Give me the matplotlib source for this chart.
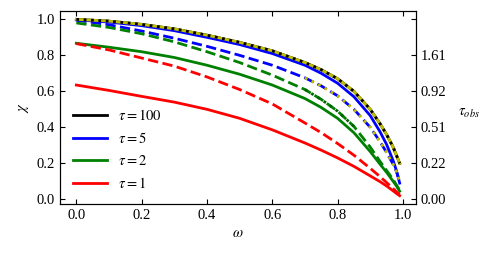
import numpy as np
import matplotlib
matplotlib.use("Agg")
from matplotlib import pyplot as plt

plt.rcParams['font.family'] = 'serif'
plt.rcParams['font.serif'] = ['Liberation Serif', 'DejaVu Serif']
plt.rcParams['mathtext.fontset'] = 'stix'
plt.rcParams['font.size'] = 10.5

# single scattering albedo grid
omega = [0.0, 0.1, 0.2, 0.3, 0.4, 0.5, 0.6, 0.7, 0.75, 0.8, 0.85, 0.9, 0.93, 0.95, 0.97, 0.98, 0.99]

# solid curves
chi_tau100 = [1.0, 0.99, 0.972, 0.947, 0.912, 0.872, 0.825, 0.76, 0.72, 0.67, 0.60, 0.50, 0.42, 0.36, 0.29, 0.245, 0.2]
chi_tau5 = [0.997, 0.985, 0.965, 0.937, 0.9, 0.86, 0.81, 0.745, 0.70, 0.645, 0.57, 0.465, 0.375, 0.305, 0.215, 0.16, 0.09]
chi_tau2 = [0.867, 0.845, 0.82, 0.788, 0.745, 0.695, 0.635, 0.56, 0.51, 0.45, 0.37, 0.265, 0.195, 0.15, 0.10, 0.075, 0.045]
chi_tau1 = [0.635, 0.605, 0.572, 0.54, 0.50, 0.45, 0.386, 0.313, 0.273, 0.23, 0.183, 0.13, 0.098, 0.074, 0.047, 0.033, 0.02]

# dashed curves
chid_tau5 = [0.995, 0.97, 0.935, 0.895, 0.85, 0.80, 0.745, 0.675, 0.63, 0.575, 0.50, 0.40, 0.32, 0.26, 0.195, 0.155, 0.1]
chid_tau2 = [0.98, 0.955, 0.92, 0.875, 0.82, 0.76, 0.69, 0.61, 0.555, 0.49, 0.405, 0.29, 0.21, 0.16, 0.11, 0.08, 0.05]
chid_tau1 = [0.865, 0.83, 0.785, 0.74, 0.68, 0.61, 0.53, 0.424, 0.37, 0.31, 0.245, 0.172, 0.126, 0.093, 0.06, 0.042, 0.025]

# right axis: tau_obs labels at chi ticks
chi_ticks = [0.0, 0.2, 0.4, 0.6, 0.8, 1.0]
tau_obs_labels = ['0.00', '0.22', '0.51', '0.92', '1.61', '']

fig = plt.figure(figsize=(4.85, 2.59), dpi=100)
ax = fig.add_axes([0.1237, 0.2124, 0.734, 0.7463])

lw = 2.0
ax.plot(omega, chi_tau100, color='k', lw=lw, label=r'$\tau=100$')
ax.plot(omega, chi_tau5, color='b', lw=lw, label=r'$\tau=5$')
ax.plot(omega, chi_tau2, color='g', lw=lw, label=r'$\tau=2$')
ax.plot(omega, chi_tau1, color='r', lw=lw, label=r'$\tau=1$')

ax.plot(omega, chid_tau5, color='b', lw=lw, ls='--')
ax.plot(omega, chid_tau2, color='g', lw=lw, ls='--')
ax.plot(omega, chid_tau1, color='r', lw=lw, ls='--')

# approximations overlaid
ax.plot(omega, chi_tau100, color='y', lw=lw)
ax.plot(omega, chi_tau100, color='k', lw=lw, ls=':')
ax.plot(omega[7:], chid_tau5[7:], color='y', lw=lw, ls=':')
ax.plot(omega[7:11], chid_tau2[7:11], color='darkgreen', lw=lw, ls=':')

ax.set_xlim(-0.05, 1.04)
ax.set_ylim(-0.026, 1.048)
ax.set_xticks([0.0, 0.2, 0.4, 0.6, 0.8, 1.0])
ax.set_yticks([0.0, 0.2, 0.4, 0.6, 0.8, 1.0])
ax.tick_params(direction='in', length=3.5, top=True, right=False)
ax.set_xlabel(r'$\omega$')
ax.set_ylabel(r'$\chi$')

ax2 = ax.twinx()
ax2.set_ylim(ax.get_ylim())
ax2.set_yticks(chi_ticks)
ax2.set_yticklabels(tau_obs_labels)
ax2.tick_params(direction='in', length=3.5)
ax2.set_ylabel(r'$\tau_{obs}$', rotation=0, labelpad=16)

ax.legend(loc='lower left', frameon=False, handlelength=2.3, labelspacing=0.55)

fig.savefig('out.png', dpi=100)
